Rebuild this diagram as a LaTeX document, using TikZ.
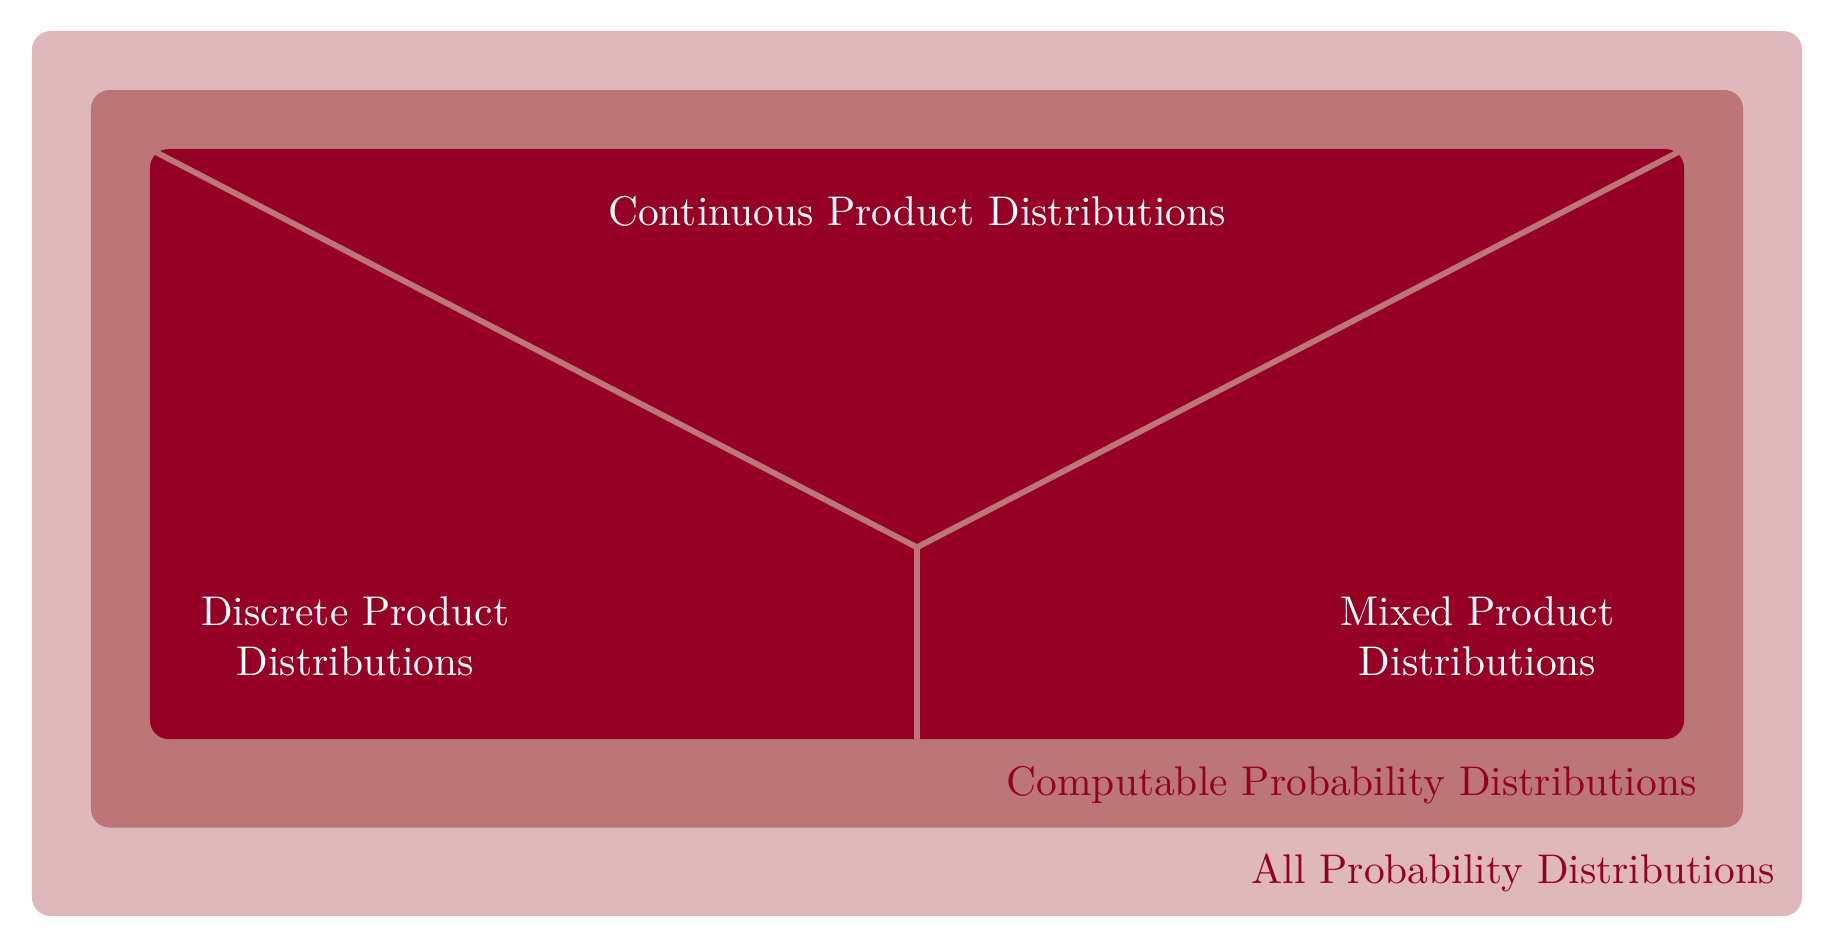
\documentclass[tikz,border=0pt]{standalone}
\usepackage{amsmath}
\usepackage{tikz}
\usetikzlibrary{calc}
\usetikzlibrary{positioning}

\definecolor{allcol}{HTML}{DFB8BC}
\definecolor{compcol}{HTML}{BD7677}
\definecolor{prodcol}{HTML}{950024}

\tikzset{
    setbox/.style={rounded corners=4.5pt},
    splitline/.style={compcol,line width=1.4pt},
    innerlabel/.style={white,align=center},
    outerlabel/.style={prodcol,anchor=base east}
}

\begin{document}
\begin{tikzpicture}[scale=1.0]
        \useasboundingbox (-1.271,-1.771) rectangle (14.271,6.263);
        \fill[setbox,allcol] (-1,-1.5) rectangle (14,6);
        \fill[setbox,compcol] (-0.5,-0.75) rectangle (13.5,5.5);
        \fill[setbox,prodcol] (0,0) rectangle (13,5);
        \coordinate (tl) at (0,5);
        \coordinate (tr) at (13,5);
        \coordinate (meet) at (6.5,1.625);
        \coordinate (bot) at (6.5,0);
        \draw[splitline] (tl) -- (meet) -- (tr);
        \draw[splitline] (meet) -- (bot);
        \node[innerlabel,anchor=base] (cont) at (6.5,4.35) {Continuous Product Distributions};
        \node[innerlabel] (disc) at (1.74,0.87) {Discrete Product\\Distributions};
        \node[innerlabel] (mixed) at (11.25,0.87) {Mixed Product\\Distributions};
        \node[outerlabel] (comp) at (13.23,-0.475) {Computable Probability Distributions};
        \node[outerlabel] (all) at (13.89,-1.22) {All Probability Distributions};
    \end{tikzpicture}
\end{document}
